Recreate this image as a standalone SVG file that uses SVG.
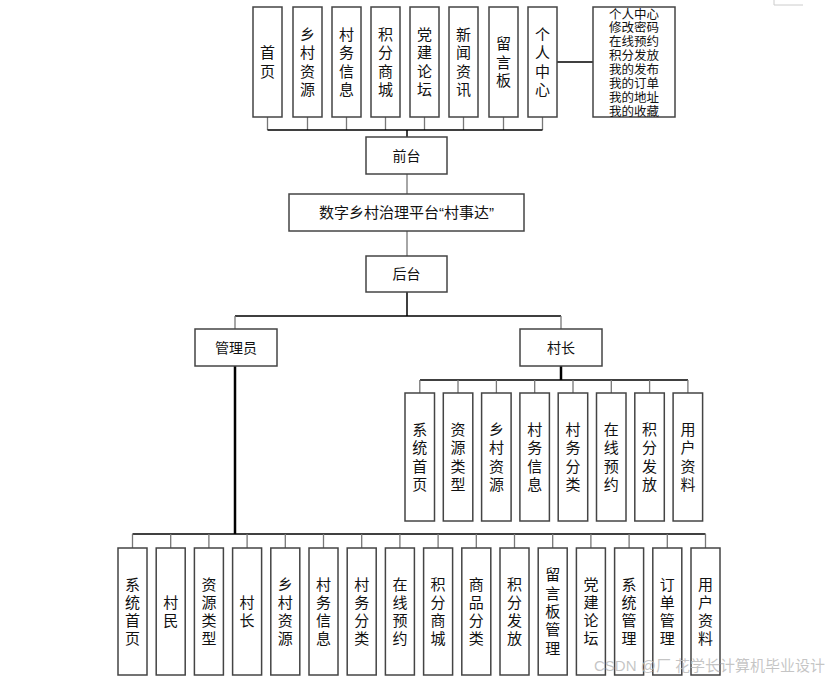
<svg xmlns="http://www.w3.org/2000/svg" width="837" height="681" viewBox="0 0 837 681">
<style>
.box{fill:#fff;stroke:#444;stroke-width:1.5}
.t{font-family:"Liberation Sans","Noto Sans CJK SC",sans-serif;font-size:15px;fill:#111;text-anchor:middle}
.h{font-size:14px}
.l{font-size:12.5px}
.ln{fill:none;stroke:#777;stroke-width:1.3}
.bk{fill:none;stroke:#000;stroke-width:1.5}
.tk{fill:none;stroke:#000;stroke-width:2.5}
.wm{font-family:"Liberation Sans","Noto Sans CJK SC",sans-serif;font-size:15px;fill:#bbb;fill-opacity:0.85}
</style>
<rect width="837" height="681" fill="#fff"/>
<path d="M774 0V5H803" fill="none" stroke="#ccc" stroke-width="1"/>
<g id="connectors">
<path class="ln" d="M267.5 117V130M307.5 117V130M346.5 117V130M385.5 117V130M424.5 117V130M463.5 117V130M503.5 117V130M542.5 117V130"/>
<path class="bk" d="M267.5 130H542.5M407 130V137"/>
<path class="bk" d="M557 62H593"/>
<path class="ln" d="M407 174V194M407 231V256"/>
<path class="bk" d="M407 292V316M235 316H561"/>
<path class="ln" d="M235 316V329M561 316V329"/>
<path class="tk" d="M235 366V534M561 366V380"/>
<path class="bk" d="M420 380H688"/>
<path class="ln" d="M419.8 380V393M458 380V393M496.4 380V393M534.7 380V393M573 380V393M611.3 380V393M649.6 380V393M687.9 380V393"/>
<path class="bk" d="M132.5 534H705.5"/>
<path class="ln" d="M132.5 534V548M170.7 534V548M208.9 534V548M247.1 534V548M285.3 534V548M323.5 534V548M361.7 534V548M399.9 534V548M438.1 534V548M476.3 534V548M514.5 534V548M552.7 534V548M590.9 534V548M629.1 534V548M667.3 534V548M705.5 534V548"/>
</g>
<g id="top-shouye"><rect class="box" x="253" y="7" width="29" height="110"/><text class="t"><tspan x="267.5" y="58.25">首</tspan><tspan x="267.5" y="76.75">页</tspan></text></g>
<g id="top-xiangcunziyuan"><rect class="box" x="293" y="7" width="29" height="110"/><text class="t"><tspan x="307.5" y="39.75">乡</tspan><tspan x="307.5" y="58.25">村</tspan><tspan x="307.5" y="76.75">资</tspan><tspan x="307.5" y="95.25">源</tspan></text></g>
<g id="top-cunwuxinxi"><rect class="box" x="332" y="7" width="29" height="110"/><text class="t"><tspan x="346.5" y="39.75">村</tspan><tspan x="346.5" y="58.25">务</tspan><tspan x="346.5" y="76.75">信</tspan><tspan x="346.5" y="95.25">息</tspan></text></g>
<g id="top-jifenshangcheng"><rect class="box" x="371" y="7" width="29" height="110"/><text class="t"><tspan x="385.5" y="39.75">积</tspan><tspan x="385.5" y="58.25">分</tspan><tspan x="385.5" y="76.75">商</tspan><tspan x="385.5" y="95.25">城</tspan></text></g>
<g id="top-dangjianluntan"><rect class="box" x="410" y="7" width="29" height="110"/><text class="t"><tspan x="424.5" y="39.75">党</tspan><tspan x="424.5" y="58.25">建</tspan><tspan x="424.5" y="76.75">论</tspan><tspan x="424.5" y="95.25">坛</tspan></text></g>
<g id="top-xinwenzixun"><rect class="box" x="449" y="7" width="29" height="110"/><text class="t"><tspan x="463.5" y="39.75">新</tspan><tspan x="463.5" y="58.25">闻</tspan><tspan x="463.5" y="76.75">资</tspan><tspan x="463.5" y="95.25">讯</tspan></text></g>
<g id="top-liuyanban"><rect class="box" x="489" y="7" width="29" height="110"/><text class="t"><tspan x="503.5" y="49">留</tspan><tspan x="503.5" y="67.5">言</tspan><tspan x="503.5" y="86">板</tspan></text></g>
<g id="top-gerenzhongxin"><rect class="box" x="528" y="7" width="29" height="110"/><text class="t"><tspan x="542.5" y="39.75">个</tspan><tspan x="542.5" y="58.25">人</tspan><tspan x="542.5" y="76.75">中</tspan><tspan x="542.5" y="95.25">心</tspan></text></g>
<g id="personal-list"><rect class="box" x="593" y="7" width="82" height="110"/><text class="t l"><tspan x="634" y="18.5">个人中心</tspan><tspan x="634" y="32.4">修改密码</tspan><tspan x="634" y="46.2">在线预约</tspan><tspan x="634" y="60.1">积分发放</tspan><tspan x="634" y="73.9">我的发布</tspan><tspan x="634" y="87.8">我的订单</tspan><tspan x="634" y="101.7">我的地址</tspan><tspan x="634" y="115.5">我的收藏</tspan></text></g>
<g id="qiantai"><rect class="box" x="366" y="137" width="81" height="37"/><text class="t h" x="406.5" y="160.5">前台</text></g>
<g id="platform"><rect class="box" x="289" y="194" width="235" height="37"/><text class="t" x="406.5" y="218">数字乡村治理平台“村事达”</text></g>
<g id="houtai"><rect class="box" x="366" y="256" width="81" height="36"/><text class="t h" x="406.5" y="279">后台</text></g>
<g id="admin"><rect class="box" x="195" y="329" width="82" height="37"/><text class="t h" x="236" y="352.5">管理员</text></g>
<g id="cunzhang"><rect class="box" x="520" y="329" width="82" height="37"/><text class="t h" x="561" y="352.5">村长</text></g>
<g id="cz-1"><rect class="box" x="405" y="393" width="29.5" height="128"/><text class="t"><tspan x="419.8" y="434.75">系</tspan><tspan x="419.8" y="453.25">统</tspan><tspan x="419.8" y="471.75">首</tspan><tspan x="419.8" y="490.25">页</tspan></text></g>
<g id="cz-2"><rect class="box" x="443.3" y="393" width="29.5" height="128"/><text class="t"><tspan x="458" y="434.75">资</tspan><tspan x="458" y="453.25">源</tspan><tspan x="458" y="471.75">类</tspan><tspan x="458" y="490.25">型</tspan></text></g>
<g id="cz-3"><rect class="box" x="481.6" y="393" width="29.5" height="128"/><text class="t"><tspan x="496.4" y="434.75">乡</tspan><tspan x="496.4" y="453.25">村</tspan><tspan x="496.4" y="471.75">资</tspan><tspan x="496.4" y="490.25">源</tspan></text></g>
<g id="cz-4"><rect class="box" x="519.9" y="393" width="29.5" height="128"/><text class="t"><tspan x="534.7" y="434.75">村</tspan><tspan x="534.7" y="453.25">务</tspan><tspan x="534.7" y="471.75">信</tspan><tspan x="534.7" y="490.25">息</tspan></text></g>
<g id="cz-5"><rect class="box" x="558.2" y="393" width="29.5" height="128"/><text class="t"><tspan x="573" y="434.75">村</tspan><tspan x="573" y="453.25">务</tspan><tspan x="573" y="471.75">分</tspan><tspan x="573" y="490.25">类</tspan></text></g>
<g id="cz-6"><rect class="box" x="596.5" y="393" width="29.5" height="128"/><text class="t"><tspan x="611.3" y="434.75">在</tspan><tspan x="611.3" y="453.25">线</tspan><tspan x="611.3" y="471.75">预</tspan><tspan x="611.3" y="490.25">约</tspan></text></g>
<g id="cz-7"><rect class="box" x="634.8" y="393" width="29.5" height="128"/><text class="t"><tspan x="649.6" y="434.75">积</tspan><tspan x="649.6" y="453.25">分</tspan><tspan x="649.6" y="471.75">发</tspan><tspan x="649.6" y="490.25">放</tspan></text></g>
<g id="cz-8"><rect class="box" x="673.1" y="393" width="29.5" height="128"/><text class="t"><tspan x="687.9" y="434.75">用</tspan><tspan x="687.9" y="453.25">户</tspan><tspan x="687.9" y="471.75">资</tspan><tspan x="687.9" y="490.25">料</tspan></text></g>
<g id="ad-1"><rect class="box" x="118" y="548" width="29" height="127"/><text class="t"><tspan x="132.5" y="589.5">系</tspan><tspan x="132.5" y="607.8">统</tspan><tspan x="132.5" y="626.1">首</tspan><tspan x="132.5" y="644.4">页</tspan></text></g>
<g id="ad-2"><rect class="box" x="156.2" y="548" width="29" height="127"/><text class="t"><tspan x="170.7" y="607.8">村</tspan><tspan x="170.7" y="626.1">民</tspan></text></g>
<g id="ad-3"><rect class="box" x="194.4" y="548" width="29" height="127"/><text class="t"><tspan x="208.9" y="589.5">资</tspan><tspan x="208.9" y="607.8">源</tspan><tspan x="208.9" y="626.1">类</tspan><tspan x="208.9" y="644.4">型</tspan></text></g>
<g id="ad-4"><rect class="box" x="232.6" y="548" width="29" height="127"/><text class="t"><tspan x="247.1" y="607.8">村</tspan><tspan x="247.1" y="626.1">长</tspan></text></g>
<g id="ad-5"><rect class="box" x="270.8" y="548" width="29" height="127"/><text class="t"><tspan x="285.3" y="589.5">乡</tspan><tspan x="285.3" y="607.8">村</tspan><tspan x="285.3" y="626.1">资</tspan><tspan x="285.3" y="644.4">源</tspan></text></g>
<g id="ad-6"><rect class="box" x="309" y="548" width="29" height="127"/><text class="t"><tspan x="323.5" y="589.5">村</tspan><tspan x="323.5" y="607.8">务</tspan><tspan x="323.5" y="626.1">信</tspan><tspan x="323.5" y="644.4">息</tspan></text></g>
<g id="ad-7"><rect class="box" x="347.2" y="548" width="29" height="127"/><text class="t"><tspan x="361.7" y="589.5">村</tspan><tspan x="361.7" y="607.8">务</tspan><tspan x="361.7" y="626.1">分</tspan><tspan x="361.7" y="644.4">类</tspan></text></g>
<g id="ad-8"><rect class="box" x="385.4" y="548" width="29" height="127"/><text class="t"><tspan x="399.9" y="589.5">在</tspan><tspan x="399.9" y="607.8">线</tspan><tspan x="399.9" y="626.1">预</tspan><tspan x="399.9" y="644.4">约</tspan></text></g>
<g id="ad-9"><rect class="box" x="423.6" y="548" width="29" height="127"/><text class="t"><tspan x="438.1" y="589.5">积</tspan><tspan x="438.1" y="607.8">分</tspan><tspan x="438.1" y="626.1">商</tspan><tspan x="438.1" y="644.4">城</tspan></text></g>
<g id="ad-10"><rect class="box" x="461.8" y="548" width="29" height="127"/><text class="t"><tspan x="476.3" y="589.5">商</tspan><tspan x="476.3" y="607.8">品</tspan><tspan x="476.3" y="626.1">分</tspan><tspan x="476.3" y="644.4">类</tspan></text></g>
<g id="ad-11"><rect class="box" x="500" y="548" width="29" height="127"/><text class="t"><tspan x="514.5" y="589.5">积</tspan><tspan x="514.5" y="607.8">分</tspan><tspan x="514.5" y="626.1">发</tspan><tspan x="514.5" y="644.4">放</tspan></text></g>
<g id="ad-12"><rect class="box" x="538.2" y="548" width="29" height="127"/><text class="t"><tspan x="552.7" y="580.4">留</tspan><tspan x="552.7" y="598.7">言</tspan><tspan x="552.7" y="617">板</tspan><tspan x="552.7" y="635.3">管</tspan><tspan x="552.7" y="653.6">理</tspan></text></g>
<g id="ad-13"><rect class="box" x="576.4" y="548" width="29" height="127"/><text class="t"><tspan x="590.9" y="589.5">党</tspan><tspan x="590.9" y="607.8">建</tspan><tspan x="590.9" y="626.1">论</tspan><tspan x="590.9" y="644.4">坛</tspan></text></g>
<g id="ad-14"><rect class="box" x="614.6" y="548" width="29" height="127"/><text class="t"><tspan x="629.1" y="589.5">系</tspan><tspan x="629.1" y="607.8">统</tspan><tspan x="629.1" y="626.1">管</tspan><tspan x="629.1" y="644.4">理</tspan></text></g>
<g id="ad-15"><rect class="box" x="652.8" y="548" width="29" height="127"/><text class="t"><tspan x="667.3" y="589.5">订</tspan><tspan x="667.3" y="607.8">单</tspan><tspan x="667.3" y="626.1">管</tspan><tspan x="667.3" y="644.4">理</tspan></text></g>
<g id="ad-16"><rect class="box" x="691" y="548" width="29" height="127"/><text class="t"><tspan x="705.5" y="589.5">用</tspan><tspan x="705.5" y="607.8">户</tspan><tspan x="705.5" y="626.1">资</tspan><tspan x="705.5" y="644.4">料</tspan></text></g>
<text class="wm" x="594" y="671">CSDN @厂 花学长计算机毕业设计</text>
</svg>
